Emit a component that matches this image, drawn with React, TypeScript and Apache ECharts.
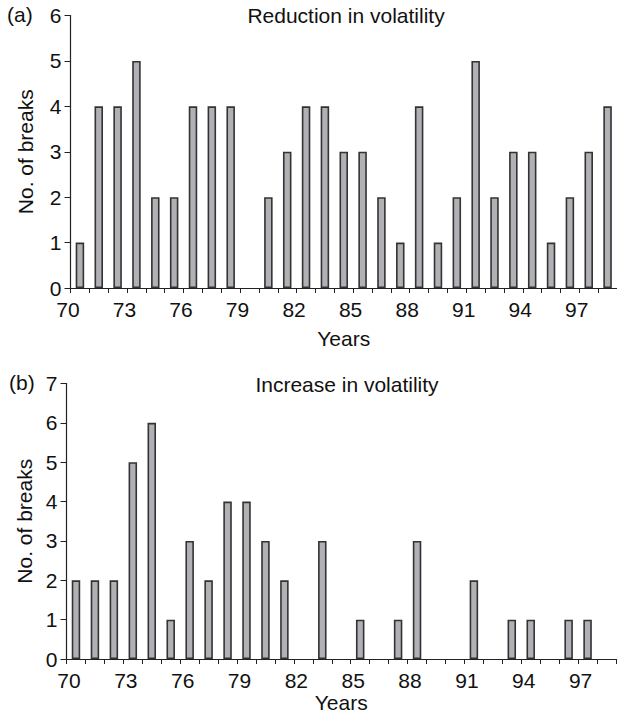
import React, { useEffect, useRef } from "react";
import * as echarts from "echarts";

const years = ["70","71","72","73","74","75","76","77","78","79","80","81","82","83","84","85","86","87","88","89","90","91","92","93","94","95","96","97","98"];
const reductionBreaks = [1,4,4,5,2,2,4,4,4,0,2,3,4,4,3,3,2,1,4,1,2,5,2,3,3,1,2,3,4];
const increaseBreaks = [2,2,2,5,6,1,3,2,4,4,3,2,0,3,0,1,0,1,3,0,0,2,0,1,1,0,1,1,0];
const panelLabels = ["(a)", "(b)"];
const panelTitles = ["Reduction in volatility", "Increase in volatility"];
const xName = "Years";
const yName = "No. of breaks";

const FONT = "'Liberation Sans', Arial, Helvetica, sans-serif";
const FS = 21;
const TXT = "#111";

const nonZero = (arr: number[]) => arr.map((v) => (v === 0 ? null : v));

export default function App() {
  const ref = useRef<HTMLDivElement>(null);
  useEffect(() => {
    if (!ref.current) return;
    const chart = echarts.init(ref.current, undefined, { renderer: "svg" });
    const xAxisBase = (gridIndex: number, shift: number, nameGap: number) => ({
      type: "category",
      gridIndex,
      data: years,
      boundaryGap: true,
      name: xName,
      nameLocation: "middle",
      nameGap,
      nameTextStyle: { fontFamily: FONT, fontSize: FS, color: TXT },
      axisLine: { lineStyle: { color: "#222", width: 1.2 } },
      axisTick: { show: true, interval: 0, length: 5, inside: false, alignWithLabel: false, lineStyle: { color: "#222" } },
      axisLabel: {
        interval: 2,
        margin: 11,
        fontFamily: FONT,
        fontSize: FS,
        color: TXT,
        align: "center",
        padding: [0, shift * 2, 0, 0],
      },
      splitLine: { show: false },
    });
    const yAxisBase = (gridIndex: number, max: number, nameGap: number) => ({
      type: "value",
      gridIndex,
      min: 0,
      max,
      interval: 1,
      name: yName,
      nameLocation: "middle",
      nameRotate: 90,
      nameGap,
      nameTextStyle: { fontFamily: FONT, fontSize: FS, color: TXT },
      axisLine: { show: true, lineStyle: { color: "#222", width: 1.2 } },
      axisTick: { show: true, length: 6, lineStyle: { color: "#222" } },
      axisLabel: { margin: 9, fontFamily: FONT, fontSize: FS, color: TXT },
      splitLine: { show: false },
    });
    const barStyle = { color: "#b0b0b5", borderColor: "#333", borderWidth: 1.6 };
    chart.setOption({
      animation: false,
      backgroundColor: "#ffffff",
      grid: [
        { left: 70.5, top: 15.5, width: 554, height: 272.5, containLabel: false },
        { left: 66.5, top: 383.5, width: 549.5, height: 275.5, containLabel: false },
      ],
      xAxis: [xAxisBase(0, 12, 40), xAxisBase(1, 7, 33)],
      yAxis: [yAxisBase(0, 6, 35), yAxisBase(1, 7, 31)],
      series: [
        { type: "bar", xAxisIndex: 0, yAxisIndex: 0, data: nonZero(reductionBreaks), barWidth: 8.5, itemStyle: barStyle },
        { type: "bar", xAxisIndex: 1, yAxisIndex: 1, data: nonZero(increaseBreaks), barWidth: 8.5, itemStyle: barStyle },
      ],
      graphic: [
        { type: "text", left: 7, top: 4, style: { text: panelLabels[0], font: `${FS}px ${FONT}`, fill: TXT } },
        { type: "text", x: 346, y: 15, style: { text: panelTitles[0], font: `${FS}px ${FONT}`, fill: TXT, textAlign: "center", textVerticalAlign: "middle" } },
        { type: "text", left: 9, top: 372, style: { text: panelLabels[1], font: `${FS}px ${FONT}`, fill: TXT } },
        { type: "text", x: 347, y: 384, style: { text: panelTitles[1], font: `${FS}px ${FONT}`, fill: TXT, textAlign: "center", textVerticalAlign: "middle" } },
      ],
    });
    return () => chart.dispose();
  }, []);
  return <div ref={ref} style={{ position: "absolute", left: 0, top: 0, width: 617, height: 716 }} />;
}
